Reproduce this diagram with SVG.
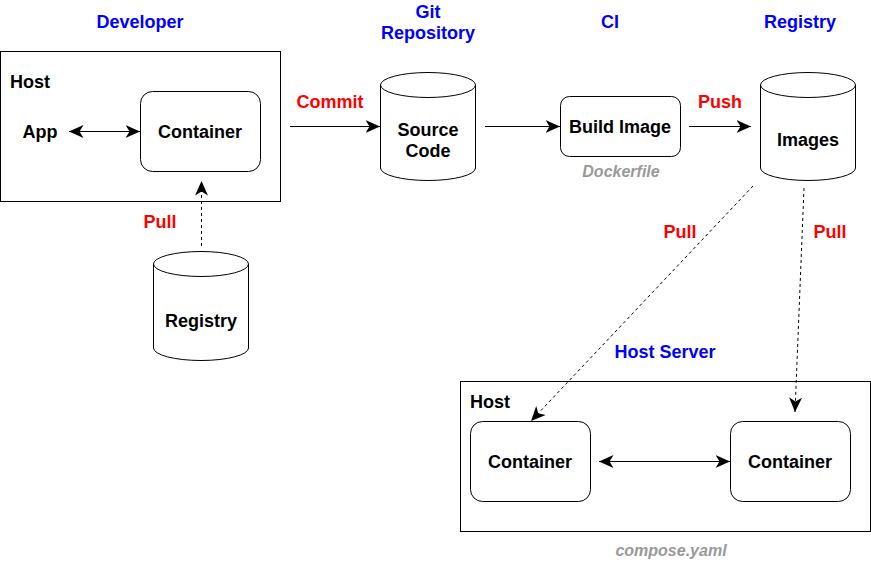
<svg xmlns="http://www.w3.org/2000/svg" width="871" height="562" viewBox="0 0 871 562">
<defs>
<style>
.t{font-family:"Liberation Sans",Arial,Helvetica,sans-serif;font-weight:bold;font-size:18px;text-anchor:middle;dominant-baseline:central}
.blue{fill:#0000ff}
.red{fill:#ff0000}
.blk{fill:#000}
.gray{fill:#999999;font-style:italic;font-size:16px}
.box{fill:#fff;stroke:#000;stroke-width:1}
.ln{fill:none;stroke:#000;stroke-width:1}
.dash{fill:none;stroke:#000;stroke-width:1;stroke-dasharray:3 3}
</style>
<marker id="ah" viewBox="0 0 15 14" refX="14.5" refY="7" markerWidth="15" markerHeight="14" markerUnits="userSpaceOnUse" orient="auto-start-reverse">
<path d="M0,0.5 L14.5,7 L0,13.5 L4,7 Z" fill="#000"/>
</marker>
</defs>
<rect width="871" height="562" fill="#fff"/>

<g id="labels">
<text class="t blue" x="140" y="22">Developer</text>
<text class="t blue" x="428" y="12">Git</text>
<text class="t blue" x="428" y="33">Repository</text>
<text class="t blue" x="610" y="22">CI</text>
<text class="t blue" x="800" y="22">Registry</text>
<text class="t blue" x="665" y="352">Host Server</text>
</g>

<g id="dev-host">
<rect class="box" x="0.5" y="51.5" width="280" height="150"/>
<text class="t blk" x="10" y="82" style="text-anchor:start">Host</text>
<text class="t blk" x="40" y="132">App</text>
</g>
<g id="dev-container">
<rect class="box" x="140.5" y="91.5" width="120" height="80" rx="12"/>
<text class="t blk" x="200" y="132">Container</text>
</g>
<g id="dev-registry">
<path class="box" d="M153.5,264 A47.5,12.5 0 0 1 248.5,264 L248.5,348 A47.5,12.5 0 0 1 153.5,348 Z"/>
<path class="ln" d="M153.5,264 A47.5,12.5 0 0 0 248.5,264"/>
<text class="t blk" x="201" y="321">Registry</text>
</g>
<g id="source-code">
<path class="box" d="M380.5,85 A47.5,12.5 0 0 1 475.5,85 L475.5,168 A47.5,12.5 0 0 1 380.5,168 Z"/>
<path class="ln" d="M380.5,85 A47.5,12.5 0 0 0 475.5,85"/>
<text class="t blk" x="428" y="130">Source</text>
<text class="t blk" x="428" y="151">Code</text>
</g>
<g id="build-image">
<rect class="box" x="560.5" y="96.5" width="120" height="60" rx="9"/>
<text class="t blk" x="620" y="127">Build Image</text>
<text class="t gray" x="621" y="171">Dockerfile</text>
</g>
<g id="images">
<path class="box" d="M760.5,85 A47.5,12.5 0 0 1 855.5,85 L855.5,168 A47.5,12.5 0 0 1 760.5,168 Z"/>
<path class="ln" d="M760.5,85 A47.5,12.5 0 0 0 855.5,85"/>
<text class="t blk" x="808" y="140">Images</text>
</g>
<g id="server-host">
<rect class="box" x="460.5" y="381.5" width="410" height="150"/>
<text class="t blk" x="470" y="402" style="text-anchor:start">Host</text>
<text class="t gray" x="671" y="550">compose.yaml</text>
</g>
<g id="server-container-1">
<rect class="box" x="470.5" y="421.5" width="120" height="80" rx="12"/>
<text class="t blk" x="530" y="462">Container</text>
</g>
<g id="server-container-2">
<rect class="box" x="730.5" y="421.5" width="120" height="80" rx="12"/>
<text class="t blk" x="790" y="462">Container</text>
</g>

<g id="connectors">
<line class="ln" x1="69" y1="131.5" x2="140" y2="131.5" marker-start="url(#ah)" marker-end="url(#ah)"/>
<line class="dash" x1="201.5" y1="246" x2="201.5" y2="181" marker-end="url(#ah)"/>
<text class="t red" x="160" y="222">Pull</text>
<line class="ln" x1="290" y1="126.5" x2="380" y2="126.5" marker-end="url(#ah)"/>
<text class="t red" x="330" y="102">Commit</text>
<line class="ln" x1="485" y1="126.5" x2="560" y2="126.5" marker-end="url(#ah)"/>
<line class="ln" x1="689" y1="126.5" x2="751" y2="126.5" marker-end="url(#ah)"/>
<text class="t red" x="720" y="102">Push</text>
<line class="dash" x1="753" y1="186" x2="531" y2="421" marker-end="url(#ah)"/>
<text class="t red" x="680" y="232">Pull</text>
<line class="dash" x1="804" y1="188" x2="795" y2="412" marker-end="url(#ah)"/>
<text class="t red" x="830" y="232">Pull</text>
<line class="ln" x1="599" y1="461.5" x2="730" y2="461.5" marker-start="url(#ah)" marker-end="url(#ah)"/>
</g>
</svg>
